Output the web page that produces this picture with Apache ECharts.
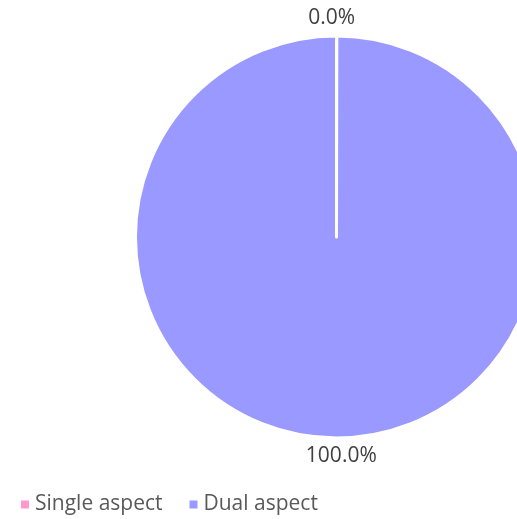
<!DOCTYPE html>
<html>
<head>
<meta charset="utf-8">
<script src="https://cdn.jsdelivr.net/npm/echarts@6/dist/echarts.min.js"></script>
<style>html,body{margin:0;padding:0;background:#fff;}#c{width:517px;height:519px;}</style>
</head>
<body>
<div id="c"></div>
<script>
const categories = ["Single aspect", "Dual aspect"];
const values = [0, 100];
const colors = ["#FF99CC", "#9999FF"];

const chart = echarts.init(document.getElementById('c'), null, {renderer: 'canvas'});
chart.setOption({
  animation: false,
  backgroundColor: '#ffffff',
  textStyle: {fontFamily: 'Open Sans'},
  legend: {
    left: 14, top: 489,
    itemWidth: 10, itemHeight: 10, itemGap: 25,
    icon: 'rect',
    textStyle: {fontSize: 21, color: '#595959', fontFamily: 'Open Sans'},
    data: categories
  },
  series: [{
    type: 'pie',
    center: [336.5, 237],
    radius: 201,
    startAngle: 90,
    clockwise: true,
    minAngle: 0.1,
    avoidLabelOverlap: false,
    itemStyle: {borderColor: '#ffffff', borderWidth: 3},
    label: {
      show: true,
      position: 'outside',
      fontSize: 21,
      color: '#404040',
      fontFamily: 'Open Sans',
      formatter: p => p.percent.toFixed(1) + '%'
    },
    labelLine: {show: false, length: 18, length2: 0},
    labelLayout: p => ({align: 'center', dx: p.dataIndex === 1 ? 10 : -10}),
    data: categories.map((n, i) => ({name: n, value: values[i], itemStyle: {color: colors[i]}}))
  }]
});
</script>
</body>
</html>
